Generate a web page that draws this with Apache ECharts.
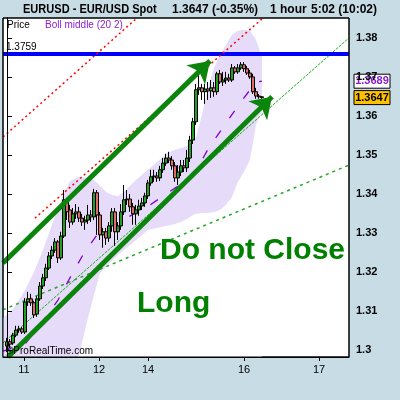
<!DOCTYPE html>
<html>
<head>
<meta charset="utf-8">
<script src="https://cdn.jsdelivr.net/npm/echarts@6/dist/echarts.min.js"></script>
<style>
  html, body { margin: 0; padding: 0; background: #c8dce5; }
  #chart { width: 400px; height: 400px; }
</style>
</head>
<body>
<div id="chart"></div>
<script>
// hourly candles, EUR/USD (bar index = position on x axis)
const opens = [1.3010,1.3021,1.3018,1.3038,1.3051,1.3054,1.3046,1.3123,1.3131,1.3121,
  1.3092,1.3131,1.3164,1.3185,1.3210,1.3241,1.3256,1.3277,1.3236,1.3292,
  1.3382,1.3359,1.3328,1.3349,1.3354,1.3338,1.3328,1.3333,1.3346,1.3341,
  1.3403,1.3346,1.3295,1.3303,1.3287,1.3318,1.3354,1.3303,1.3318,1.3354,
  1.3385,1.3387,1.3367,1.3349,1.3359,1.3369,1.3377,1.3395,1.3428,1.3444,
  1.3446,1.3441,1.3462,1.3479,1.3492,1.3487,1.3472,1.3441,1.3456,1.3472,
  1.3467,1.3492,1.3538,1.3585,1.3667,1.3672,1.3662,1.3669,1.3664,1.3672,
  1.3662,1.3708,1.3687,1.3692,1.3697,1.3692,1.3723,1.3713,1.3723,1.3731,
  1.3721,1.3710,1.3700,1.3662,1.3651,1.3649];
const closes = [1.3021,1.3015,1.3038,1.3051,1.3054,1.3046,1.3123,1.3131,1.3121,1.3090,
  1.3131,1.3164,1.3185,1.3210,1.3241,1.3256,1.3277,1.3236,1.3292,1.3385,
  1.3354,1.3328,1.3349,1.3354,1.3338,1.3328,1.3333,1.3346,1.3341,1.3403,
  1.3346,1.3295,1.3303,1.3287,1.3318,1.3354,1.3303,1.3318,1.3354,1.3385,
  1.3387,1.3367,1.3349,1.3359,1.3369,1.3377,1.3395,1.3428,1.3444,1.3446,
  1.3441,1.3462,1.3479,1.3492,1.3487,1.3472,1.3441,1.3456,1.3472,1.3467,
  1.3492,1.3538,1.3585,1.3667,1.3672,1.3662,1.3669,1.3664,1.3672,1.3662,
  1.3708,1.3687,1.3692,1.3697,1.3692,1.3723,1.3713,1.3723,1.3731,1.3721,
  1.3710,1.3700,1.3662,1.3651,1.3649,1.3647];
const lows = [1.2995,1.3005,1.3013,1.3033,1.3044,1.3041,1.3041,1.3113,1.3113,1.3082,
  1.3085,1.3126,1.3156,1.3177,1.3205,1.3233,1.3249,1.3223,1.3231,1.3287,
  1.3333,1.3313,1.3321,1.3336,1.3328,1.3318,1.3308,1.3323,1.3328,1.3333,
  1.3295,1.3282,1.3262,1.3269,1.3277,1.3303,1.3267,1.3282,1.3308,1.3346,
  1.3372,1.3354,1.3321,1.3321,1.3344,1.3359,1.3367,1.3387,1.3421,1.3431,
  1.3431,1.3433,1.3454,1.3472,1.3479,1.3462,1.3431,1.3423,1.3446,1.3456,
  1.3456,1.3482,1.3528,1.3577,1.3654,1.3641,1.3631,1.3641,1.3646,1.3649,
  1.3654,1.3682,1.3677,1.3682,1.3687,1.3687,1.3708,1.3708,1.3718,1.3713,
  1.3705,1.3695,1.3656,1.3644,1.3644,1.3644];
const highs = [1.3031,1.3028,1.3044,1.3062,1.3062,1.3059,1.3133,1.3149,1.3144,1.3126,
  1.3138,1.3174,1.3195,1.3221,1.3251,1.3267,1.3287,1.3282,1.3303,1.3410,
  1.3390,1.3372,1.3364,1.3374,1.3367,1.3349,1.3344,1.3372,1.3359,1.3413,
  1.3410,1.3354,1.3313,1.3313,1.3328,1.3364,1.3364,1.3328,1.3374,1.3423,
  1.3410,1.3400,1.3377,1.3372,1.3385,1.3390,1.3403,1.3436,1.3462,1.3462,
  1.3456,1.3472,1.3492,1.3503,1.3508,1.3497,1.3482,1.3474,1.3487,1.3487,
  1.3513,1.3549,1.3595,1.3682,1.3705,1.3682,1.3682,1.3687,1.3692,1.3687,
  1.3713,1.3718,1.3713,1.3713,1.3708,1.3733,1.3728,1.3733,1.3738,1.3738,
  1.3728,1.3718,1.3708,1.3672,1.3656,1.3651];

// Bollinger (20, 2) bands at these bar positions
const bandIdx = [-1.33,1,3,6,9,12,15,18,21,24,27,29,31,33,35,37,39,41,43,45,47,50,53,56,58,60,62,63,65,67,69,71,73,75,77,79,81,83,85];
const bandUpper = [1.3082,1.3097,1.3115,1.3154,1.3200,1.3256,1.3321,1.3385,1.3433,1.3444,
  1.3441,1.3436,1.3421,1.3405,1.3397,1.3395,1.3405,1.3421,1.3436,1.3449,1.3462,1.3482,
  1.3503,1.3513,1.3518,1.3523,1.3533,1.3544,1.3603,1.3672,1.3723,1.3756,1.3782,1.3808,
  1.3818,1.3821,1.3818,1.3795,1.3751];
const bandLower = [1.2910,1.2897,1.2890,1.2885,1.2885,1.2892,1.2905,1.2923,1.2949,1.2987,
  1.3082,1.3141,1.3197,1.3213,1.3228,1.3244,1.3256,1.3269,1.3282,1.3295,1.3308,1.3313,
  1.3318,1.3323,1.3328,1.3336,1.3346,1.3349,1.3351,1.3351,1.3354,1.3359,1.3372,1.3392,
  1.3431,1.3456,1.3487,1.3577,1.3615];
const midIdx = [-1.33,6,11,17,21,25.7,31,39.3,47.7,56,62,67,72.3,78,83,85];
const midVals = [1.2997,1.3015,1.3064,1.3128,1.3185,1.3249,1.3305,1.3336,1.3372,1.3415,1.3444,1.3515,1.3574,1.3636,1.3687,1.3689];

// hand-drawn lines: [startIdx, startPrice, endIdx, endPrice]
const redDotted = [[-1.33, 1.3546, 43.33, 1.3851], [9.33, 1.3338, 85.33, 1.3851]];
const greenFine = [-1.33, 1.3018, 114, 1.3800];
const greenDashed = [-1.33, 1.3103, 114, 1.3474];
const arrows = [[-1.33, 1.3223, 67.67, 1.3741], [0.33, 1.2982, 88.33, 1.3649]];
const hLine = 1.3759;
const lastBoll = 1.3689;
const lastPrice = 1.3647;

// axes
const dayPos = [5.67, 30.67, 47, 79, 104];
const dayNames = ["11", "12", "14", "16", "17"];
const priceTicks = [1.30, 1.31, 1.32, 1.33, 1.34, 1.35, 1.36, 1.37, 1.38];
const xMin = -1.333, xMax = 114;
const yMin = 1.2982, yMax = 1.3851;

const FONT = "'Liberation Sans', Arial, sans-serif";
const chart = echarts.init(document.getElementById("chart"));

const candleData = opens.map((o, k) => [k, o, closes[k], lows[k], highs[k]]);
const seg = (a) => [[a[0], a[1]], [a[2], a[3]]];

const option = {
  backgroundColor: "#c8dce5",
  animation: false,
  grid: {
    left: 3, right: 51, top: 18, bottom: 43,
    show: true, backgroundColor: "#ffffff", borderColor: "#000", borderWidth: 1
  },
  xAxis: {
    type: "value", min: xMin, max: xMax, z: 10,
    splitLine: { show: false },
    axisLine: { show: true, lineStyle: { color: "#000" } },
    axisTick: { customValues: dayPos, length: 4, lineStyle: { color: "#000" } },
    axisLabel: {
      customValues: dayPos, color: "#000", fontSize: 11, fontFamily: FONT, margin: 7,
      formatter: (v) => {
        let best = 0;
        dayPos.forEach((p, k) => { if (Math.abs(p - v) < Math.abs(dayPos[best] - v)) best = k; });
        return dayNames[best];
      }
    }
  },
  yAxis: {
    type: "value", position: "right", min: yMin, max: yMax, scale: true, z: 10,
    splitLine: { show: false },
    axisLine: { show: true, lineStyle: { color: "#000" } },
    axisTick: { show: true, customValues: priceTicks, length: 5, lineStyle: { color: "#000" } },
    axisLabel: {
      customValues: priceTicks, color: "#000", fontSize: 11, fontWeight: "bold",
      fontFamily: FONT, margin: 7,
      formatter: (v) => String(+v.toFixed(2))
    }
  },
  series: [
    {
      name: "upperBand", type: "line", symbol: "none", z: 1,
      data: bandIdx.map((x, k) => [x, bandUpper[k]]),
      lineStyle: { opacity: 0 },
      areaStyle: { color: "#e6dcfa", opacity: 1, origin: "start" }
    },
    {
      name: "lowerBand", type: "line", symbol: "none", z: 1,
      data: bandIdx.map((x, k) => [x, bandLower[k]]),
      lineStyle: { opacity: 0 },
      areaStyle: { color: "#ffffff", opacity: 1, origin: "start" }
    },
    {
      name: "greenFine", type: "line", symbol: "none", z: 2, data: seg(greenFine),
      lineStyle: { color: "#22b022", width: 1, type: [3, 1] }
    },
    {
      name: "greenDashed", type: "line", symbol: "none", z: 2, data: seg(greenDashed),
      lineStyle: { color: "#22a822", width: 1.5, type: [3, 4] }
    },
    {
      name: "bollMiddle", type: "line", symbol: "none", z: 3,
      data: midIdx.map((x, k) => [x, midVals[k]]),
      lineStyle: { color: "#8000d0", width: 1.3, type: [9, 15] }
    },
    {
      name: "price", type: "candlestick", z: 4, barWidth: 3,
      encode: { x: 0, y: [1, 2, 3, 4] },
      data: candleData,
      itemStyle: {
        color: "#20a020", color0: "#e06b6b",
        borderColor: "#000", borderColor0: "#000", borderWidth: 1
      }
    },
    {
      name: "hline", type: "line", symbol: "none", z: 5,
      data: [[xMin, hLine], [xMax, hLine]],
      lineStyle: { color: "#0000ff", width: 4 }
    },
    ...redDotted.map((r) => ({
      type: "line", symbol: "none", z: 6, data: seg(r),
      lineStyle: { color: "#ff0000", width: 1.5, type: [2, 3] }
    })),
    {
      name: "arrows", type: "lines", coordinateSystem: "cartesian2d", z: 7,
      symbol: ["none", "arrow"], symbolSize: 20,
      data: arrows.map((a) => ({ coords: seg(a) })),
      lineStyle: { color: "#0a840a", width: 5, opacity: 1 }
    }
  ]
};
chart.setOption(option);

// texts, frame and price boxes
const toPx = (x, y) => chart.convertToPixel({ gridIndex: 0 }, [x, y]);
const yb = toPx(0, lastBoll)[1];
const yp = toPx(0, lastPrice)[1];
const yh = toPx(0, hLine)[1];
const yp2 = Math.max(yp, yb + 16);
const tl = toPx(xMin, yMax), br = toPx(xMax, yMin);

function txt(x, y, text, opts, sx) {
  return {
    type: "text", x: x, y: y, z: 100, scaleX: sx || 1,
    style: Object.assign({
      text: text, fill: "#000", fontFamily: FONT, fontSize: 11,
      textAlign: "left", textVerticalAlign: "middle"
    }, opts || {})
  };
}
function box(y, text, fill, color) {
  return {
    type: "group", x: 354, y: y - 7, z: 100,
    children: [
      { type: "rect", shape: { x: 0, y: 0, width: 36, height: 14 },
        style: { fill: fill, stroke: "#000", lineWidth: 1 } },
      { type: "text", x: 18, y: 7,
        style: { text: text, fill: color, fontFamily: FONT, fontSize: 11, fontWeight: "bold",
                 textAlign: "center", textVerticalAlign: "middle" } }
    ]
  };
}

chart.setOption({
  graphic: [
    { type: "rect", z: 90, silent: true,
      shape: { x: tl[0], y: tl[1], width: br[0] - tl[0], height: br[1] - tl[1] },
      style: { fill: "none", stroke: "#000", lineWidth: 1 } },
    txt(23, 10, "EURUSD - EUR/USD Spot", { fontSize: 12, fontWeight: "bold" }, 0.92),
    txt(172, 10, "1.3647 (-0.35%)", { fontSize: 12, fontWeight: "bold" }),
    txt(270, 10, "1 hour", { fontSize: 12, fontWeight: "bold" }),
    txt(311, 10, "5:02 (10:02)", { fontSize: 12, fontWeight: "bold" }),
    txt(7, 25, "Price", { fontSize: 10 }),
    txt(45, 25, "Boll middle (20 2)", { fontSize: 10, fill: "#8a1ed0" }),
    txt(6, yh - 7, "1.3759", { fontSize: 10 }),
    txt(6, 351, "\u00a9ProRealTime.com", { fontSize: 10 }),
    txt(160, 251, "Do not Close", { fontSize: 30, fontWeight: "bold", fill: "#008000" }),
    txt(137, 304, "Long", { fontSize: 30, fontWeight: "bold", fill: "#008000" }),
    box(yb, "1.3689", "#ffffff", "#8a1ed0"),
    box(yp2, "1.3647", "#ffc000", "#000")
  ]
});
</script>
</body>
</html>
